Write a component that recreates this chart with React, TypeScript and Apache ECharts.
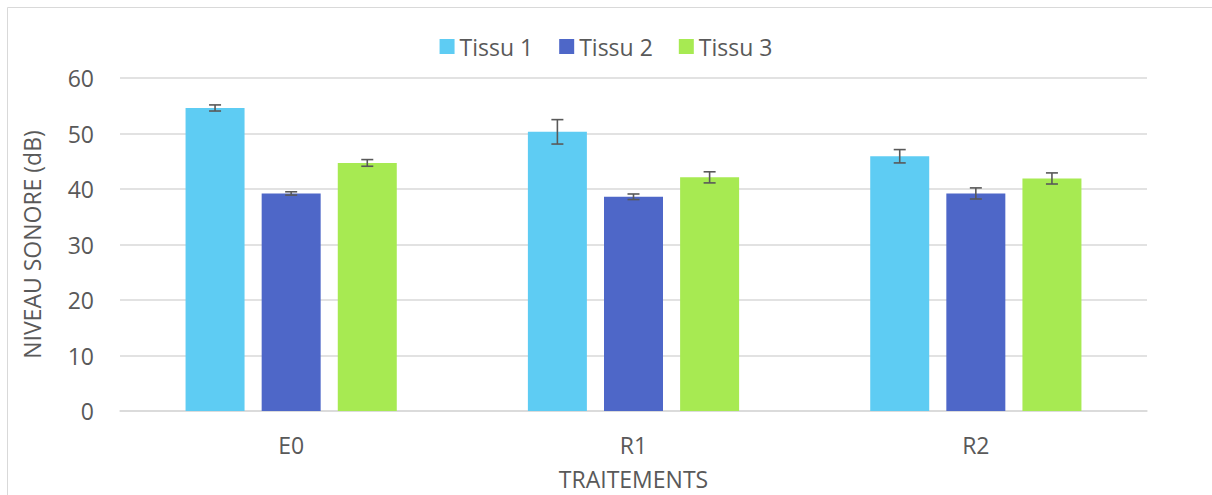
import React, { useEffect, useRef } from "react";
import * as echarts from "echarts";

const categories = ["E0", "R1", "R2"];
const seriesNames = ["Tissu 1", "Tissu 2", "Tissu 3"];
const tissu1 = [54.6, 50.3, 45.9];
const tissu2 = [39.2, 38.6, 39.2];
const tissu3 = [44.7, 42.1, 41.9];
const err1 = [0.55, 2.2, 1.2];
const err2 = [0.3, 0.5, 1.0];
const err3 = [0.6, 1.0, 1.0];
const yTicks = [0, 10, 20, 30, 40, 50, 60];

const colors = ["#5ECCF3", "#4E67C8", "#A7EA52"];
const FONT = "'Open Sans', 'Noto Sans', sans-serif";
const TEXT = "#595959";
const FS = 23;
const BAR_W = 59;
const BAR_GAP = 0.29;

export default function App() {
  const ref = useRef<HTMLDivElement>(null);
  useEffect(() => {
    if (!ref.current) return;
    const chart = echarts.init(ref.current, null, { renderer: "svg" });
    const values = [tissu1, tissu2, tissu3];
    const errs = [err1, err2, err3];
    const bars = values.map((v, i) => ({
      name: seriesNames[i],
      type: "bar",
      data: v,
      barWidth: BAR_W,
      barGap: BAR_GAP * 100 + "%",
      itemStyle: { color: colors[i] },
      z: 2,
    }));
    const errSeries = values.map((v, i) => ({
      type: "custom",
      name: "err" + i,
      data: v.map((val, k) => [k, val, errs[i][k]]),
      z: 5,
      silent: true,
      renderItem: (params: any, api: any) => {
        const k = api.value(0);
        const val = api.value(1);
        const e = api.value(2);
        const offset = (i - 1) * BAR_W * (1 + BAR_GAP);
        const hi = api.coord([k, val + e]);
        const lo = api.coord([k, val - e]);
        const x = hi[0] + offset;
        const cap = 6;
        const style = { stroke: "#595959", lineWidth: 1.6, fill: "none" };
        return {
          type: "group",
          children: [
            { type: "line", shape: { x1: x, y1: hi[1], x2: x, y2: lo[1] }, style },
            { type: "line", shape: { x1: x - cap, y1: hi[1], x2: x + cap, y2: hi[1] }, style },
            { type: "line", shape: { x1: x - cap, y1: lo[1], x2: x + cap, y2: lo[1] }, style },
          ],
        };
      },
    }));
    chart.setOption({
      animation: false,
      backgroundColor: "#ffffff",
      textStyle: { fontFamily: FONT },
      graphic: [
        {
          type: "rect",
          shape: { x: 7.5, y: 7.5, width: 1300, height: 600 },
          style: { fill: "none", stroke: "#d9d9d9", lineWidth: 1 },
          silent: true,
        },
      ],
      legend: {
        data: seriesNames,
        top: 30,
        left: "center",
        itemWidth: 15,
        itemHeight: 15,
        itemGap: 26,
        icon: "rect",
        textStyle: { color: TEXT, fontSize: FS, fontFamily: FONT },
      },
      grid: { left: 120, right: 65, top: 78, bottom: 84 },
      xAxis: {
        type: "category",
        data: categories,
        axisLine: { lineStyle: { color: "#d9d9d9", width: 1.5 } },
        axisTick: { show: false },
        axisLabel: { color: TEXT, fontSize: FS, margin: 22, fontFamily: FONT },
        name: "TRAITEMENTS",
        nameLocation: "middle",
        nameGap: 56,
        nameTextStyle: { color: TEXT, fontSize: FS, fontFamily: FONT },
      },
      yAxis: {
        type: "value",
        min: yTicks[0],
        max: yTicks[yTicks.length - 1],
        interval: 10,
        axisLine: { show: false },
        axisTick: { show: false },
        splitLine: { lineStyle: { color: "#d9d9d9", width: 1.5 } },
        axisLabel: { color: TEXT, fontSize: FS, margin: 26, fontFamily: FONT },
        name: "NIVEAU SONORE (dB)",
        nameLocation: "middle",
        nameGap: 77,
        nameTextStyle: { color: TEXT, fontSize: FS, fontFamily: FONT },
      },
      series: [...bars, ...errSeries],
    });
    return () => chart.dispose();
  }, []);
  return (
    <div
      ref={ref}
      style={{ position: "fixed", left: 0, top: 0, width: 1212, height: 495 }}
    />
  );
}
